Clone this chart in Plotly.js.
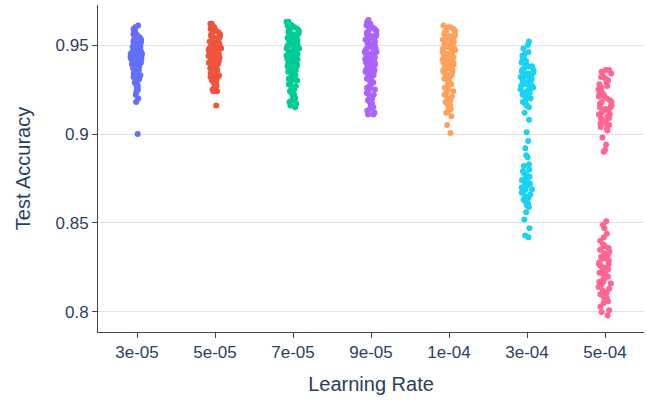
<!DOCTYPE html>
<html>
<head>
<meta charset="utf-8">
<script src="https://cdn.plot.ly/plotly-3.0.1.min.js"></script>
<style>html,body{margin:0;padding:0;background:#fff;}#chart{width:647px;height:400px;}</style>
</head>
<body>
<div id="chart"></div>
<script>
const categories = ["3e-05","5e-05","7e-05","9e-05","1e-04","3e-04","5e-04"];
const colors = ["#636efa","#EF553B","#00cc96","#ab63fa","#FFA15A","#19d3f3","#FF6692"];

const acc_3e05 = [0.961,0.960,0.959,0.958,0.958,0.957,0.956,0.956,0.955,0.955,0.954,0.954,0.953,0.953,0.952,0.952,0.951,0.951,0.950,0.950,0.950,0.949,0.949,0.948,0.948,0.948,0.947,0.947,0.947,0.946,0.946,0.946,0.945,0.945,0.945,0.945,0.944,0.944,0.944,0.944,0.943,0.943,0.943,0.943,0.943,0.942,0.942,0.942,0.942,0.941,0.941,0.941,0.941,0.940,0.940,0.940,0.940,0.939,0.939,0.939,0.938,0.938,0.938,0.937,0.937,0.936,0.936,0.935,0.935,0.934,0.934,0.933,0.933,0.932,0.931,0.930,0.930,0.929,0.928,0.927,0.926,0.925,0.924,0.922,0.920,0.918,0.900];
const acc_5e05 = [0.962,0.962,0.961,0.960,0.960,0.959,0.958,0.958,0.957,0.957,0.956,0.956,0.955,0.955,0.954,0.954,0.953,0.953,0.952,0.952,0.951,0.951,0.951,0.950,0.950,0.950,0.949,0.949,0.949,0.948,0.948,0.948,0.947,0.947,0.947,0.946,0.946,0.946,0.945,0.945,0.945,0.944,0.944,0.944,0.943,0.943,0.943,0.942,0.942,0.942,0.941,0.941,0.941,0.940,0.940,0.940,0.939,0.939,0.939,0.938,0.938,0.937,0.937,0.936,0.936,0.935,0.935,0.934,0.934,0.933,0.933,0.932,0.932,0.931,0.930,0.930,0.929,0.928,0.928,0.927,0.926,0.925,0.924,0.924,0.916];
const acc_7e05 = [0.963,0.963,0.962,0.962,0.961,0.961,0.960,0.960,0.959,0.959,0.958,0.958,0.957,0.957,0.956,0.956,0.955,0.955,0.954,0.954,0.953,0.953,0.952,0.952,0.951,0.951,0.950,0.950,0.950,0.949,0.949,0.948,0.948,0.947,0.947,0.946,0.946,0.946,0.945,0.945,0.944,0.944,0.943,0.943,0.943,0.942,0.942,0.941,0.941,0.940,0.940,0.940,0.939,0.939,0.938,0.938,0.937,0.937,0.936,0.936,0.935,0.935,0.934,0.934,0.933,0.932,0.932,0.931,0.930,0.930,0.929,0.928,0.927,0.926,0.925,0.924,0.923,0.922,0.921,0.920,0.919,0.918,0.917,0.916,0.915];
const acc_9e05 = [0.964,0.963,0.962,0.961,0.960,0.960,0.959,0.958,0.958,0.957,0.956,0.956,0.955,0.955,0.954,0.954,0.953,0.953,0.952,0.951,0.951,0.950,0.950,0.949,0.949,0.948,0.948,0.947,0.947,0.946,0.946,0.945,0.945,0.945,0.944,0.944,0.943,0.943,0.942,0.942,0.941,0.941,0.940,0.940,0.939,0.939,0.938,0.938,0.937,0.937,0.936,0.936,0.935,0.935,0.934,0.934,0.933,0.932,0.932,0.931,0.930,0.930,0.929,0.928,0.927,0.926,0.926,0.925,0.924,0.923,0.922,0.921,0.920,0.919,0.918,0.917,0.916,0.915,0.914,0.913,0.912,0.911,0.911];
const acc_1e04 = [0.961,0.960,0.960,0.959,0.958,0.958,0.957,0.956,0.956,0.955,0.955,0.954,0.954,0.953,0.953,0.952,0.952,0.951,0.951,0.950,0.950,0.949,0.949,0.948,0.948,0.947,0.947,0.946,0.946,0.945,0.945,0.944,0.944,0.943,0.943,0.942,0.942,0.941,0.941,0.940,0.940,0.939,0.939,0.938,0.938,0.937,0.937,0.936,0.936,0.935,0.935,0.934,0.933,0.933,0.932,0.931,0.931,0.930,0.929,0.928,0.928,0.927,0.926,0.925,0.924,0.923,0.922,0.921,0.920,0.919,0.918,0.917,0.916,0.915,0.914,0.913,0.912,0.910,0.905,0.9005];
const acc_3e04 = [0.952,0.950,0.948,0.946,0.945,0.944,0.943,0.942,0.941,0.941,0.940,0.939,0.938,0.938,0.937,0.936,0.936,0.935,0.935,0.934,0.934,0.933,0.933,0.932,0.932,0.931,0.931,0.930,0.930,0.929,0.929,0.928,0.928,0.927,0.927,0.926,0.926,0.925,0.925,0.924,0.923,0.923,0.922,0.921,0.920,0.919,0.918,0.917,0.916,0.915,0.912,0.908,0.901,0.896,0.892,0.888,0.887,0.883,0.882,0.880,0.879,0.878,0.877,0.876,0.875,0.875,0.874,0.873,0.873,0.872,0.871,0.871,0.870,0.869,0.869,0.868,0.867,0.866,0.865,0.864,0.863,0.862,0.861,0.860,0.859,0.856,0.852,0.847,0.843,0.842];
const acc_5e04 = [0.936,0.936,0.935,0.934,0.933,0.932,0.931,0.930,0.929,0.928,0.927,0.926,0.925,0.925,0.924,0.923,0.922,0.921,0.921,0.920,0.919,0.918,0.918,0.917,0.916,0.915,0.915,0.914,0.913,0.913,0.912,0.911,0.911,0.910,0.909,0.909,0.908,0.907,0.906,0.906,0.905,0.904,0.903,0.902,0.898,0.894,0.891,0.890,0.851,0.849,0.847,0.844,0.842,0.840,0.838,0.837,0.836,0.835,0.834,0.833,0.832,0.831,0.830,0.830,0.829,0.828,0.827,0.827,0.826,0.825,0.824,0.824,0.823,0.822,0.821,0.821,0.820,0.819,0.818,0.817,0.817,0.816,0.815,0.814,0.813,0.812,0.811,0.810,0.809,0.808,0.807,0.806,0.805,0.803,0.801,0.800,0.798];

const series = [acc_3e05, acc_5e05, acc_7e05, acc_9e05, acc_1e04, acc_3e04, acc_5e04];
const yTicks = [0.8, 0.85, 0.9, 0.95];
const yTickText = ["0.8", "0.85", "0.9", "0.95"];

const traces = series.map((vals, i) => ({
  type: 'box',
  name: categories[i],
  x: vals.map(() => categories[i]),
  y: vals,
  boxpoints: 'all',
  jitter: 0.42,
  pointpos: 0,
  width: 0.4,
  fillcolor: 'rgba(255,255,255,0)',
  line: {color: 'rgba(255,255,255,0)', width: 0},
  hoveron: 'points',
  marker: {color: colors[i], size: 6, opacity: 1},
  showlegend: false
}));

const font = {family: 'Arial, "Liberation Sans", sans-serif', color: '#2a3f5f'};
const layout = {
  width: 647, height: 400,
  margin: {l: 98, r: 3, t: 5, b: 68},
  paper_bgcolor: '#ffffff', plot_bgcolor: '#ffffff',
  boxmode: 'overlay',
  showlegend: false,
  font: font,
  xaxis: {
    type: 'category', categoryorder: 'array', categoryarray: categories,
    range: [-0.5, 6.5],
    showline: true, linecolor: '#444', linewidth: 1,
    ticks: 'outside', ticklen: 5, tickcolor: '#444',
    showgrid: false, zeroline: false,
    tickfont: {size: 17, color: '#2a3f5f'},
    title: {text: 'Learning Rate', font: {size: 20, color: '#2a3f5f'}, standoff: 15}
  },
  yaxis: {
    range: [0.78876, 0.97247],
    tickvals: yTicks, ticktext: yTickText,
    showline: true, linecolor: '#444', linewidth: 1,
    ticks: 'outside', ticklen: 5, tickcolor: '#444',
    showgrid: true, gridcolor: '#e2e2e2', zeroline: false,
    tickfont: {size: 17, color: '#2a3f5f'},
    title: {text: 'Test Accuracy', font: {size: 20, color: '#2a3f5f'}, standoff: 19}
  }
};

Plotly.newPlot('chart', traces, layout, {displayModeBar: false, staticPlot: true});
</script>
</body>
</html>
